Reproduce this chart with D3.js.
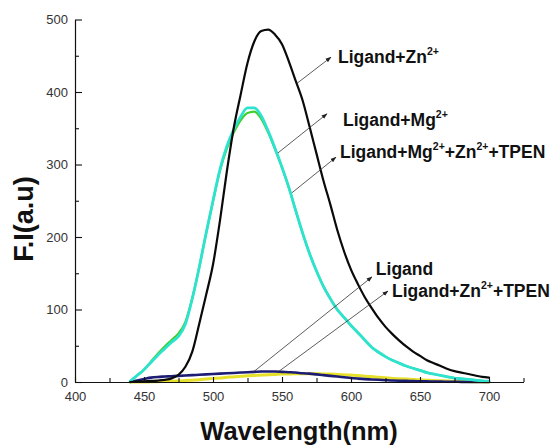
<!DOCTYPE html>
<html>
<head>
<meta charset="utf-8">
<script src="https://cdn.jsdelivr.net/npm/d3@7/dist/d3.min.js"></script>
<style>
  html, body { margin: 0; padding: 0; background: #fff; }
  svg { display: block; }
  text { font-family: Arial, "Liberation Sans", Helvetica, sans-serif; }
</style>
</head>
<body>
<svg id="chart" width="553" height="445"></svg>
<script>
// Emission wavelengths (nm)
const wavelengths = [440,445,450,455,460,465,470,475,480,485,
                     490,495,500,505,510,515,520,525,530,535,
                     540,545,550,555,560,565,570,575,580,585,
                     590,595,600,605,610,615,620,625,630,635,
                     640,645,650,655,660,665,670,675,680,685,
                     690,695,700];

// Fluorescence intensity (a.u.) for each sample
const ligandZn = [0,0.5,1,1.5,2,3,5,10,21,42,
                  80,120,162,222,290,350,396,440,470,484,
                  486,479,466,442,415,388,352,315,278,245,
                  210,180,155,135,117,102,88,76,66,57,
                  49,42,36,30,26,22,18,15,13,11,
                  9,7,6];
const ligandMg = [1,9,17,27,37,46,55,63,80,115,
                  158,205,250,293,325,348,366,378,378,367,
                  346,322,296,268,236,205,177,153,132,115,
                  100,89,78,68,58,48,41,35,30,26,
                  22,19,16,13,11,9,7,5.5,4.5,3.5,
                  2.5,1.5,1];
const ligandMgZnTPEN = [1,9,17,28,39,49,58,67,83,116,
                  158,205,249,291,322,344,361,371,373,363,
                  344,321,296,268,236,205,177,153,132,115,
                  100,89,78,68,58,48,41,35,30,26,
                  22,19,16,13,11,9,7,5.5,4.5,3.5,
                  2.5,1.5,1];
const ligand = [0,2,4,6,7,7.5,8,8.5,9,9.5,
                10,10.5,11,11.5,12,12.5,13,13.5,14,14.5,
                14.5,14.5,14,13.5,13,12,11.5,10.5,9.5,8.5,
                7.5,6.5,5.5,4.7,4,3.5,3,2.5,2,1.7,
                1.5,1.2,1,0.8,0.7,0.5,0.4,0.3,0.2,0.1,
                0,0,0];
const ligandZnTPEN = [0,0,0,0.3,0.5,0.8,1,1.5,2,2.5,
                3,4,5,5.5,6.5,7,8,8.5,9,9.5,
                10,10.5,11,11,11.5,11.5,11.5,11.5,11,11,
                10.5,10,9.5,9,8,7.5,6.5,6,5,4.5,
                4,3.5,3,2.5,2,1.7,1.4,1.1,0.8,0.6,
                0.4,0.2,0];

// Axis ticks
const xMajorTicks = [400,450,500,550,600,650,700];
const xMinorTicks = [425,475,525,575,625,675,725];
const yMajorTicks = [0,100,200,300,400,500];
const yMinorTicks = [50,150,250,350,450];

// Series drawing order (back to front) with colours
const series = [
  { values: ligandZnTPEN,   color: "#e6e02a", width: 3 },
  { values: ligand,         color: "#1c1c74", width: 2.6 },
  { values: ligandMgZnTPEN, color: "#3fcf2a", width: 2.2 },
  { values: ligandMg,       color: "#2de3cf", width: 2.8 },
  { values: ligandZn,       color: "#0a0a0a", width: 2.2 }
];

// Callout labels: arrow from a point on a curve to the label
const callouts = [
  { base: "Ligand+Zn", sups: [["2+", ""]], from: [560.9, 412], to: [585.5, 448], at: [590.6, 440] },
  { base: "Ligand+Mg", sups: [["2+", ""]], from: [547.1, 316], to: [582.6, 370], at: [594.2, 353] },
  { base: "Ligand+Mg", sups: [["2+", "+Zn"], ["2+", "+TPEN"]], from: [557.2, 261], to: [589.1, 310], at: [592, 309] },
  { base: "Ligand", sups: [], from: [528.3, 12.4], to: [615.2, 145], at: [618, 147.6] },
  { base: "Ligand+Zn", sups: [["2+", "+TPEN"]], from: [547.1, 13.8], to: [626.8, 125.5], at: [629.7, 117] }
];

const svg = d3.select("#chart");

const x = d3.scaleLinear().domain([400, 725]).range([75, 523.5]);
const y = d3.scaleLinear().domain([0, 500]).range([382, 19.5]);

// Arrowhead marker
svg.append("defs").append("marker")
  .attr("id", "arrow")
  .attr("viewBox", "0 0 10 10")
  .attr("refX", 9).attr("refY", 5)
  .attr("markerWidth", 6).attr("markerHeight", 6)
  .attr("markerUnits", "userSpaceOnUse")
  .attr("orient", "auto")
  .append("path")
  .attr("d", "M0,1.5 L10,5 L0,8.5 Z")
  .attr("fill", "#222");

// Spectra
const line = d3.line()
  .x((d, i) => x(wavelengths[i]))
  .y(d => y(d))
  .curve(d3.curveMonotoneX);

svg.append("g").selectAll("path")
  .data(series)
  .join("path")
  .attr("d", d => line(d.values))
  .attr("fill", "none")
  .attr("stroke", d => d.color)
  .attr("stroke-width", d => d.width)
  .attr("stroke-linejoin", "round")
  .attr("stroke-linecap", "round");

// Axes
function styleAxis(g) {
  g.selectAll(".domain").attr("stroke", "#111").attr("stroke-width", 1.2);
  g.selectAll(".tick line").attr("stroke", "#111").attr("stroke-width", 1.1);
  g.selectAll(".tick text")
    .attr("fill", "#333")
    .style("font-size", "13px")
    .style("font-family", "Arial, 'Liberation Sans', sans-serif");
}

svg.append("g")
  .attr("transform", `translate(0,${y(0)})`)
  .call(d3.axisBottom(x).tickValues(xMinorTicks).tickSize(-4).tickSizeOuter(0).tickFormat(""))
  .call(styleAxis);
svg.append("g")
  .attr("transform", `translate(0,${y(0)})`)
  .call(d3.axisBottom(x).tickValues(xMajorTicks).tickSize(-5).tickSizeOuter(0).tickPadding(10).tickFormat(d3.format("d")))
  .call(styleAxis)
  .call(g => g.select(".domain").remove());

svg.append("g")
  .attr("transform", `translate(${x(400)},0)`)
  .call(d3.axisLeft(y).tickValues(yMinorTicks).tickSize(-4).tickSizeOuter(0).tickFormat(""))
  .call(styleAxis);
svg.append("g")
  .attr("transform", `translate(${x(400)},0)`)
  .call(d3.axisLeft(y).tickValues(yMajorTicks).tickSize(-7).tickSizeOuter(0).tickPadding(7).tickFormat(d3.format("d")))
  .call(styleAxis)
  .call(g => g.select(".domain").remove());

// Axis titles
svg.append("text")
  .attr("x", 299).attr("y", 440)
  .attr("text-anchor", "middle")
  .style("font-size", "25.5px").style("font-weight", "bold")
  .attr("fill", "#111")
  .text("Wavelength(nm)");

svg.append("text")
  .attr("transform", "translate(33,219) rotate(-90)")
  .attr("text-anchor", "middle")
  .style("font-size", "27px").style("font-weight", "bold")
  .attr("fill", "#111")
  .text("F.I(a.u)");

// Callouts
const cg = svg.append("g");
callouts.forEach(c => {
  cg.append("line")
    .attr("x1", x(c.from[0])).attr("y1", y(c.from[1]))
    .attr("x2", x(c.to[0])).attr("y2", y(c.to[1]))
    .attr("stroke", "#333").attr("stroke-width", 0.8)
    .attr("marker-end", "url(#arrow)");
  const t = cg.append("text")
    .attr("x", x(c.at[0])).attr("y", y(c.at[1]))
    .style("font-size", "17.5px").style("font-weight", "bold")
    .attr("fill", "#111");
  t.append("tspan").text(c.base);
  c.sups.forEach(([sup, rest]) => {
    t.append("tspan").attr("dy", -8).style("font-size", "10.5px").text(sup);
    t.append("tspan").attr("dy", 8).text(rest);
  });
});
</script>
</body>
</html>
